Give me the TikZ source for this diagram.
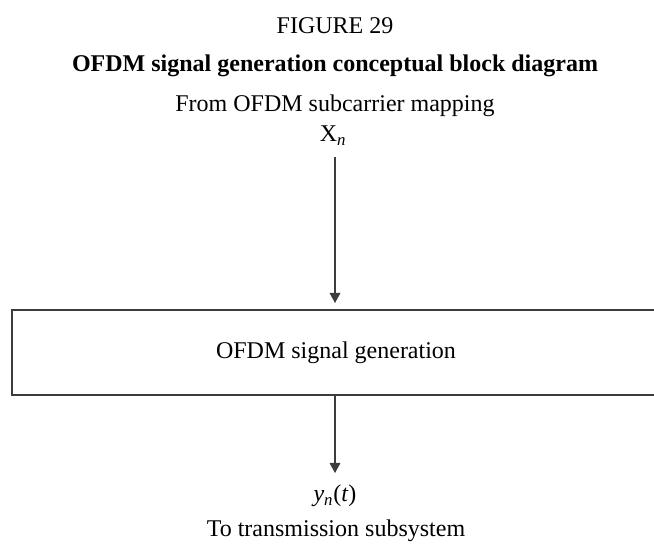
\documentclass[tikz,border=0pt]{standalone}
\usepackage{fontspec}
\setmainfont{Liberation Serif}
\usetikzlibrary{arrows.meta}
\definecolor{linegray}{HTML}{3C3C3C}
\tikzset{
  lbl/.style={anchor=base, inner sep=0pt, font=\fontsize{18}{21}\selectfont},
  genbox/.style={draw=linegray, line width=1pt, minimum width=486pt, minimum height=63.75pt, inner sep=0pt, font=\fontsize{18}{21}\selectfont},
  arr/.style={draw=linegray, line width=0.9pt, -{Triangle[length=7.5pt,width=8pt]}}
}
\begin{document}
\begin{tikzpicture}[x=0.75pt,y=-0.75pt]
\useasboundingbox (0,0) rectangle (654,545);
\node[lbl] (fig) at (335,34) {FIGURE 29};
\node[lbl, font=\fontsize{18}{21}\selectfont\bfseries] (title) at (335,72) {OFDM signal generation conceptual block diagram};
\node[lbl] (from) at (335,112) {From OFDM subcarrier mapping};
\node[lbl] (xn) at (333,142) {X\textsubscript{\textit{n}}};
\node[genbox] (gen) at (336,352.5) {OFDM signal generation};
\coordinate (a1s) at (335,157);
\coordinate (a1e) at (335,303);
\draw[arr] (a1s) -- (a1e);
\coordinate (a2s) at (335,395);
\coordinate (a2e) at (335,473);
\draw[arr] (a2s) -- (a2e);
\node[lbl] (yn) at (335,502) {\textit{y}\textsubscript{\textit{n}}(\textit{t})};
\node[lbl] (to) at (336,537) {To transmission subsystem};
\end{tikzpicture}
\end{document}
